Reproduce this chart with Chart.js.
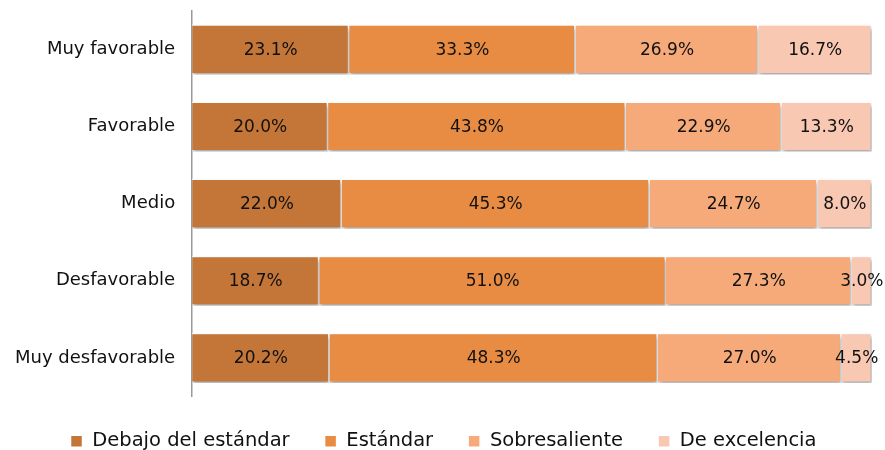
<!DOCTYPE html>
<html>
<head>
<meta charset="utf-8">
<script src="https://cdn.jsdelivr.net/npm/chart.js@4"></script>
<style>
  html, body { margin: 0; padding: 0; background: #fff; }
  #wrap { width: 885px; height: 450px; }
</style>
</head>
<body>
<div id="wrap"><canvas id="barChart"></canvas></div>
<script>
const categories = ['Muy favorable', 'Favorable', 'Medio', 'Desfavorable', 'Muy desfavorable'];
const debajo = [23.1, 20.0, 22.0, 18.7, 20.2];
const estandar = [33.3, 43.8, 45.3, 51.0, 48.3];
const sobresaliente = [26.9, 22.9, 24.7, 27.3, 27.0];
const excelencia = [16.7, 13.3, 8.0, 3.0, 4.5];

const fontFamily = '"DejaVu Sans", sans-serif';

// bar labels centred in each segment
const labelPlugin = {
  id: 'segLabels',
  afterDatasetsDraw(chart) {
    const ctx = chart.ctx;
    ctx.save();
    ctx.font = '17px ' + fontFamily;
    ctx.fillStyle = '#111';
    ctx.textAlign = 'center';
    ctx.textBaseline = 'middle';
    chart.data.datasets.forEach((ds, i) => {
      chart.getDatasetMeta(i).data.forEach((bar, j) => {
        const x = (bar.x + bar.base) / 2;
        ctx.fillText(ds.data[j].toFixed(1) + '%', x, bar.y + 1);
      });
    });
    ctx.restore();
  }
};

// soft shadow under the bars
const shadowPlugin = {
  id: 'barShadow',
  beforeDatasetsDraw(chart) {
    const ctx = chart.ctx;
    ctx.save();
    ctx.shadowColor = 'rgba(0,0,0,0.35)';
    ctx.shadowBlur = 4;
    ctx.shadowOffsetX = 1;
    ctx.shadowOffsetY = 3;
  },
  afterDatasetsDraw(chart) {
    chart.ctx.restore();
  }
};

const barConfig = {
  type: 'bar',
  data: {
    labels: categories,
    datasets: [
      { label: 'Debajo del estándar', data: debajo, backgroundColor: '#C47638' },
      { label: 'Estándar', data: estandar, backgroundColor: '#E88C44' },
      { label: 'Sobresaliente', data: sobresaliente, backgroundColor: '#F6AA7A' },
      { label: 'De excelencia', data: excelencia, backgroundColor: '#F9C8B2' }
    ].map(d => Object.assign(d, {
      borderColor: '#fff',
      borderWidth: 1.5,
      barPercentage: 0.73,
      categoryPercentage: 0.89
    }))
  },
  plugins: [shadowPlugin, labelPlugin],
  options: {
    indexAxis: 'y',
    responsive: true,
    maintainAspectRatio: false,
    animation: false,
    layout: { padding: { top: 0, right: 13, left: 15, bottom: -11 } },
    plugins: {
      tooltip: { enabled: false },
      legend: {
        position: 'bottom',
        labels: {
          font: { family: fontFamily, size: 19.5 },
          color: '#111',
          boxWidth: 12,
          boxHeight: 12,
          padding: 35
        }
      }
    },
    scales: {
      x: {
        stacked: true,
        min: 0,
        max: 100,
        display: false
      },
      y: {
        stacked: true,
        grid: {
          display: true,
          drawOnChartArea: false,
          drawTicks: true,
          tickLength: 17,
          color: 'rgba(0,0,0,0)'
        },
        border: { display: true, color: '#999', width: 1.5 },
        ticks: {
          font: { family: fontFamily, size: 18 },
          color: '#111',
          padding: 0
        }
      }
    }
  }
};

const myBarChart = new Chart(document.getElementById('barChart'), barConfig);
</script>
</body>
</html>
